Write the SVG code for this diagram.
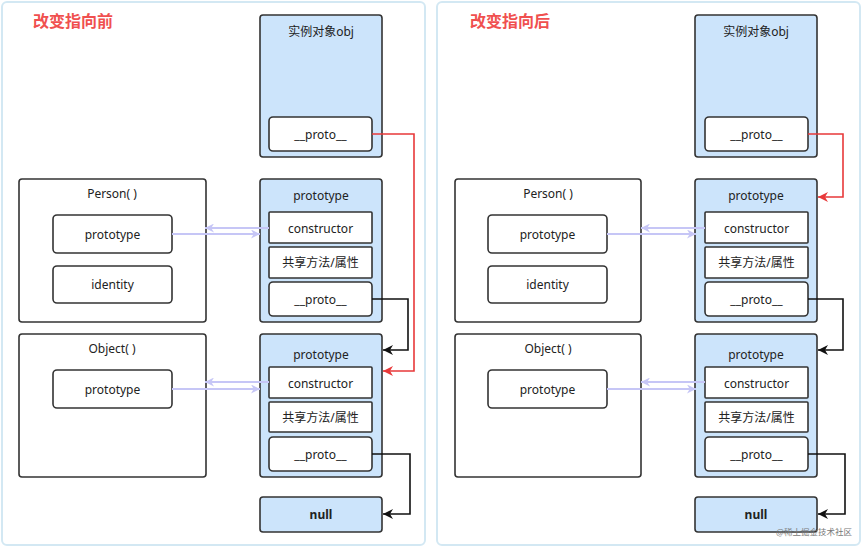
<svg xmlns="http://www.w3.org/2000/svg" width="864" height="547" viewBox="0 0 864 547">
<defs>
<style>
.panel{fill:#fff;stroke:#d3e8f3;stroke-width:2}
.blue{fill:#cce4fb;stroke:#333;stroke-width:1.6}
.white{fill:#fff;stroke:#333;stroke-width:1.6}
.t{font-family:"Noto Sans","Noto Sans CJK SC",sans-serif;font-size:12px;fill:#222;text-anchor:middle;dominant-baseline:central}
.b{font-weight:bold}
.title{font-family:"Noto Sans CJK SC","Noto Sans",sans-serif;font-size:16px;font-weight:bold;fill:#f0504f}
.red{fill:none;stroke:#e8393a;stroke-width:1.6;marker-end:url(#ar)}
.blk{fill:none;stroke:#111;stroke-width:1.6;marker-end:url(#ab)}
.lav{fill:none;stroke:#c6c6f6;stroke-width:2;marker-end:url(#al)}
.wm{font-family:"Noto Sans CJK SC",sans-serif;font-size:8.5px;fill:#777;text-anchor:end}
</style>
<marker id="ar" viewBox="0 0 10 10" refX="10" refY="5" markerWidth="13" markerHeight="10" markerUnits="userSpaceOnUse" orient="auto"><path d="M0,0 L10,5 L0,10 L3,5 Z" fill="#e8393a"/></marker>
<marker id="ab" viewBox="0 0 10 10" refX="10" refY="5" markerWidth="13" markerHeight="10" markerUnits="userSpaceOnUse" orient="auto"><path d="M0,0 L10,5 L0,10 L3,5 Z" fill="#111"/></marker>
<marker id="al" viewBox="0 0 10 10" refX="10" refY="5" markerWidth="12" markerHeight="9" markerUnits="userSpaceOnUse" orient="auto"><path d="M0,0 L10,5 L0,10 L3,5 Z" fill="#c6c6f6"/></marker>
</defs>
<rect width="864" height="547" fill="#fff"/>
<rect class="panel" x="2" y="2" width="423" height="543" rx="5"/>
<rect class="panel" x="437" y="2" width="423" height="543" rx="5"/>

<!-- LEFT PANEL -->
<g id="title-before"><text class="title" x="33" y="27">改变指向前</text></g>
<g id="obj-before">
<rect class="blue" x="260" y="15" width="122" height="142" rx="3"/>
<text class="t" x="321" y="31">实例对象obj</text>
<rect class="white" x="269" y="117" width="103" height="34" rx="4"/>
<text class="t" x="320.5" y="134">__proto__</text>
</g>
<g id="person-before">
<rect class="white" x="19" y="179" width="187" height="143" rx="3"/>
<text class="t" x="112" y="193">Person( )</text>
<rect class="white" x="53" y="215" width="119" height="38" rx="4"/>
<text class="t" x="112.5" y="234">prototype</text>
<rect class="white" x="53" y="266" width="119" height="37" rx="4"/>
<text class="t" x="112.5" y="284">identity</text>
</g>
<g id="personproto-before">
<rect class="blue" x="260" y="179" width="122" height="143" rx="3"/>
<text class="t" x="321" y="195">prototype</text>
<rect class="white" x="269" y="212" width="103" height="31" rx="1"/>
<text class="t" x="320.5" y="228">constructor</text>
<rect class="white" x="269" y="247" width="103" height="31" rx="1"/>
<text class="t" x="320.5" y="262">共享方法/属性</text>
<rect class="white" x="269" y="282" width="103" height="34" rx="4"/>
<text class="t" x="320.5" y="299">__proto__</text>
</g>
<g id="object-before">
<rect class="white" x="19" y="334" width="187" height="143" rx="3"/>
<text class="t" x="112" y="348">Object( )</text>
<rect class="white" x="53" y="370" width="119" height="38" rx="4"/>
<text class="t" x="112.5" y="389">prototype</text>
</g>
<g id="objectproto-before">
<rect class="blue" x="260" y="334" width="122" height="143" rx="3"/>
<text class="t" x="321" y="354">prototype</text>
<rect class="white" x="269" y="367" width="103" height="31" rx="1"/>
<text class="t" x="320.5" y="383">constructor</text>
<rect class="white" x="269" y="402" width="103" height="30" rx="1"/>
<text class="t" x="320.5" y="417">共享方法/属性</text>
<rect class="white" x="269" y="437" width="103" height="34" rx="4"/>
<text class="t" x="320.5" y="454">__proto__</text>
</g>
<g id="null-before">
<rect class="blue" x="260" y="497" width="122" height="35" rx="3"/>
<text class="t b" x="321" y="514">null</text>
</g>

<!-- RIGHT PANEL -->
<g id="title-after"><text class="title" x="470" y="27">改变指向后</text></g>
<g id="obj-after">
<rect class="blue" x="695" y="15" width="122" height="142" rx="3"/>
<text class="t" x="756" y="31">实例对象obj</text>
<rect class="white" x="705" y="117" width="103" height="34" rx="4"/>
<text class="t" x="756.5" y="134">__proto__</text>
</g>
<g id="person-after">
<rect class="white" x="455" y="179" width="186" height="143" rx="3"/>
<text class="t" x="548" y="193">Person( )</text>
<rect class="white" x="488" y="215" width="119" height="38" rx="4"/>
<text class="t" x="547.5" y="234">prototype</text>
<rect class="white" x="488" y="266" width="119" height="37" rx="4"/>
<text class="t" x="547.5" y="284">identity</text>
</g>
<g id="personproto-after">
<rect class="blue" x="695" y="179" width="122" height="143" rx="3"/>
<text class="t" x="756" y="195">prototype</text>
<rect class="white" x="705" y="212" width="103" height="31" rx="1"/>
<text class="t" x="756.5" y="228">constructor</text>
<rect class="white" x="705" y="247" width="103" height="31" rx="1"/>
<text class="t" x="756.5" y="262">共享方法/属性</text>
<rect class="white" x="705" y="282" width="103" height="34" rx="4"/>
<text class="t" x="756.5" y="299">__proto__</text>
</g>
<g id="object-after">
<rect class="white" x="455" y="334" width="186" height="143" rx="3"/>
<text class="t" x="548" y="348">Object( )</text>
<rect class="white" x="488" y="370" width="119" height="38" rx="4"/>
<text class="t" x="547.5" y="389">prototype</text>
</g>
<g id="objectproto-after">
<rect class="blue" x="695" y="334" width="122" height="143" rx="3"/>
<text class="t" x="756" y="354">prototype</text>
<rect class="white" x="705" y="367" width="103" height="31" rx="1"/>
<text class="t" x="756.5" y="383">constructor</text>
<rect class="white" x="705" y="402" width="103" height="30" rx="1"/>
<text class="t" x="756.5" y="417">共享方法/属性</text>
<rect class="white" x="705" y="437" width="103" height="34" rx="4"/>
<text class="t" x="756.5" y="454">__proto__</text>
</g>
<g id="null-after">
<rect class="blue" x="695" y="497" width="122" height="35" rx="3"/>
<text class="t b" x="756" y="514">null</text>
</g>

<g id="connectors">
<!-- left -->
<path class="lav" d="M269,228 H205"/>
<path class="lav" d="M172,234 H260"/>
<path class="lav" d="M269,382 H205"/>
<path class="lav" d="M172,389 H260"/>
<path class="red" d="M372,134 H414 V371 H383"/>
<path class="blk" d="M372,299 H408 V350 H383"/>
<path class="blk" d="M372,454 H410 V514 H383"/>
<!-- right -->
<path class="lav" d="M705,228 H641"/>
<path class="lav" d="M607,234 H696"/>
<path class="lav" d="M705,382 H641"/>
<path class="lav" d="M607,389 H696"/>
<path class="red" d="M808,134 H843 V197 H818"/>
<path class="blk" d="M808,299 H843 V350 H818"/>
<path class="blk" d="M808,454 H845 V514 H818"/>
</g>
<text class="wm" x="852" y="535">@稀土掘金技术社区</text>
</svg>
